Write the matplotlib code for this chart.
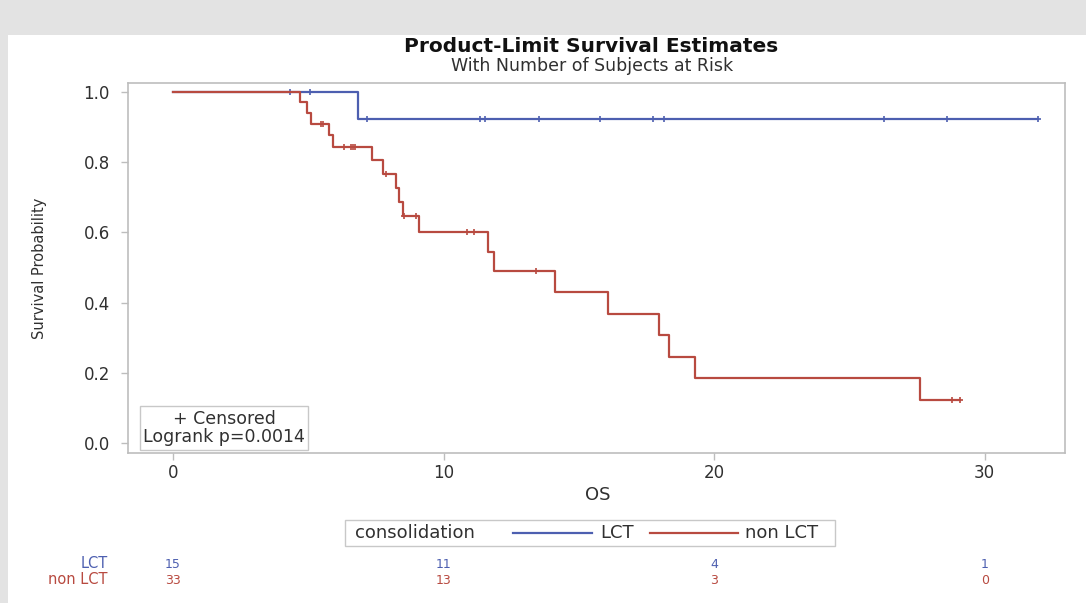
import numpy as np
import matplotlib
matplotlib.use('Agg')
import matplotlib.pyplot as plt
from matplotlib.patches import Rectangle
from matplotlib.lines import Line2D
import matplotlib.transforms as mtransforms

# Kaplan-Meier step values
lct_times = [0.0, 6.84]
lct_surv = [1.0, 0.923]
lct_end = 31.98
lct_censored = [4.33, 5.06, 7.17, 11.35, 11.53, 13.53, 15.79, 17.74, 18.15, 26.28, 28.61, 31.98]

nonlct_times = [0.0, 4.69, 4.94, 5.09, 5.78, 5.93, 7.36, 7.75, 8.23, 8.36, 8.50, 9.09,
                11.65, 11.87, 14.12, 16.07, 17.98, 18.34, 19.30, 27.60]
nonlct_surv = [1.0, 0.970, 0.939, 0.909, 0.877, 0.844, 0.806, 0.767, 0.727, 0.687, 0.646, 0.600,
               0.545, 0.491, 0.430, 0.368, 0.307, 0.245, 0.184, 0.123]
nonlct_end = 29.10
nonlct_censored = [5.46, 5.56, 6.32, 6.58, 6.67, 6.74, 7.86, 8.53, 9.00, 10.85, 11.14, 13.42,
                   28.80, 29.10]

risk_times = [0, 10, 20, 30]
risk_lct = [15, 11, 4, 1]
risk_nonlct = [33, 13, 3, 0]

blue = '#4d5fb0'
red = '#b84a40'
grey = '#bdbdbd'
txt = '#303030'

plt.rcParams['font.family'] = ['DejaVu Sans']


def surv_at(times, surv, t):
  """step lookup of the KM curve at censoring time t"""
  i = np.searchsorted(times, t, side='right') - 1
  return surv[i]


fig = plt.figure(figsize=(10.86, 6.03), dpi=100)
fig.patch.set_facecolor('#e3e3e3')
fig.add_artist(Rectangle((8 / 1086, 0), 1, 1 - 35 / 603, transform=fig.transFigure,
                         facecolor='white', edgecolor='none', zorder=0))

ax = fig.add_axes([0.1179, 0.2488, 0.8628, 0.6136])
ax.set_facecolor('white')

for times, surv, end, cens, col, z in [
    (lct_times, lct_surv, lct_end, lct_censored, blue, 2),
    (nonlct_times, nonlct_surv, nonlct_end, nonlct_censored, red, 3)]:
  ax.step(times + [end], surv + [surv[-1]], where='post', color=col, lw=1.6, zorder=z)
  cy = [surv_at(times, surv, t) for t in cens]
  ax.plot(cens, cy, ls='none', marker='+', ms=5, mew=1.2, color=col, zorder=z)

ax.set_xlim(-1.66, 32.97)
ax.set_ylim(-0.0285, 1.0256)
ax.set_xticks([0, 10, 20, 30])
ax.set_yticks([0, 0.2, 0.4, 0.6, 0.8, 1.0])
ax.set_yticklabels(['%.1f' % v for v in [0, 0.2, 0.4, 0.6, 0.8, 1.0]])
for s in ax.spines.values():
  s.set_color(grey)
  s.set_linewidth(1.2)
ax.tick_params(axis='both', colors=grey, labelcolor=txt, labelsize=12, length=5, width=1)
ax.tick_params(axis='y', pad=8)
ax.tick_params(axis='x', pad=3)

ax.text(0.1025, 0.0676, '+ Censored\nLogrank p=0.0014', transform=ax.transAxes,
        ha='center', va='center', fontsize=12.5, color=txt, linespacing=1.05,
        bbox=dict(boxstyle='square,pad=0.2', facecolor='white', edgecolor='#c8c8c8', lw=1))

fig.text(0.544, 0.9237, 'Product-Limit Survival Estimates', ha='center', va='center',
         fontsize=14.5, fontweight='bold', color='#111111')
fig.text(0.545, 0.8905, 'With Number of Subjects at Risk', ha='center', va='center',
         fontsize=12.5, color=txt)
fig.text(0.0368, 0.5556, 'Survival Probability', rotation=90, ha='center', va='center',
         fontsize=10.5, color=txt)
fig.text(0.55, 0.179, 'OS', ha='center', va='center', fontsize=13, color=txt)

# legend row under the x axis
fig.add_artist(Rectangle((0.3177, 0.0945), 0.4512, 0.0431, transform=fig.transFigure,
                         facecolor='white', edgecolor='#c8c8c8', lw=1))
ly = 0.1161
fig.text(0.3269, ly, 'consolidation', ha='left', va='center', fontsize=13, color=txt)
fig.add_artist(Line2D([0.4724, 0.5451], [ly, ly], transform=fig.transFigure, color=blue, lw=1.6))
fig.text(0.5525, ly, 'LCT', ha='left', va='center', fontsize=13, color=txt)
fig.add_artist(Line2D([0.5985, 0.6796], [ly, ly], transform=fig.transFigure, color=red, lw=1.6))
fig.text(0.686, ly, 'non LCT', ha='left', va='center', fontsize=13, color=txt)

# number at risk table
tr = mtransforms.blended_transform_factory(ax.transData, fig.transFigure)
row1, row2 = 1 - 564 / 603, 1 - 580 / 603
fig.text(0.0994, row1, 'LCT', ha='right', va='center', fontsize=10.5, color=blue)
fig.text(0.0994, row2, 'non LCT', ha='right', va='center', fontsize=10.5, color=red)
for t, a, b in zip(risk_times, risk_lct, risk_nonlct):
  fig.text(t, row1, str(a), transform=tr, ha='center', va='center', fontsize=9, color=blue)
  fig.text(t, row2, str(b), transform=tr, ha='center', va='center', fontsize=9, color=red)

fig.savefig('out.png', dpi=100, facecolor=fig.get_facecolor())
